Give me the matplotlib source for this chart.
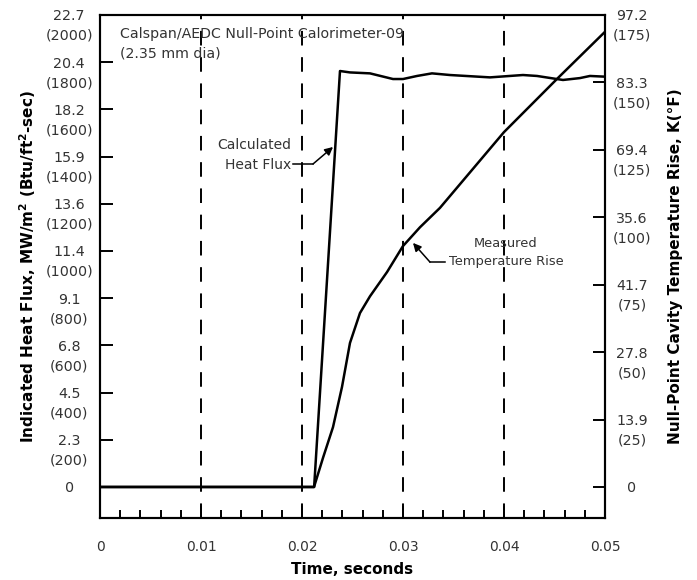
import matplotlib
matplotlib.use("Agg")
import matplotlib.pyplot as plt
from matplotlib.transforms import blended_transform_factory, ScaledTranslation
import numpy as np

# heat flux trace, Btu/ft2-sec vs time (s)
flux_t = [0, 0.0212, 0.02376, 0.02475, 0.02673, 0.02901, 0.0300, 0.03139, 0.03287,
          0.03465, 0.03861, 0.04188, 0.04327, 0.04584, 0.04752, 0.04851, 0.05]
flux_btu = [0, 0, 1763, 1757, 1753, 1729, 1729, 1742, 1753,
            1746, 1736, 1746, 1742, 1725, 1733, 1742, 1739]

# measured temperature rise, deg F vs time (s)
temp_t = [0, 0.02119, 0.02208, 0.02307, 0.02396, 0.02475, 0.02574, 0.02673,
          0.02842, 0.02999, 0.03168, 0.03366, 0.0400, 0.04535, 0.05]
temp_f = [0, 0, 10.8, 22.2, 37.1, 53.4, 64.5, 70.7,
          79.7, 89.3, 96.3, 103.5, 131.6, 151.7, 168.8]

x_ticks = [0, 0.01, 0.02, 0.03, 0.04, 0.05]
x_labels = ["0", "0.01", "0.02", "0.03", "0.04", "0.05"]

left_ticks = [0, 200, 400, 600, 800, 1000, 1200, 1400, 1600, 1800, 2000]
left_labels = ["0", "2.3\n(200)", "4.5\n(400)", "6.8\n(600)", "9.1\n(800)",
               "11.4\n(1000)", "13.6\n(1200)", "15.9\n(1400)", "18.2\n(1600)",
               "20.4\n(1800)", "22.7\n(2000)"]

right_ticks = [0, 25, 50, 75, 100, 125, 150, 175]
right_labels = ["0", "13.9\n(25)", "27.8\n(50)", "41.7\n(75)", "35.6\n(100)",
                "69.4\n(125)", "83.3\n(150)", "97.2\n(175)"]

grey = "#333333"
LS = 1.5

fig = plt.figure(figsize=(6.97, 5.80), dpi=100)
ax = fig.add_axes([0.1435, 0.107, 0.7245, 0.867])
ax2 = ax.twinx()

ax.set_xlim(0, 0.05)
ax.set_ylim(-131, 2000)
ax2.set_ylim(-11.5, 175)

for xv in x_ticks[1:-1]:
    ax.axvline(xv, color="black", lw=1.4, dashes=(7.5, 6), zorder=1)

ax.plot(flux_t, flux_btu, color="black", lw=1.8, zorder=3)
ax2.plot(temp_t, temp_f, color="black", lw=1.8, zorder=3)

for a in (ax, ax2):
    for s in a.spines.values():
        s.set_linewidth(1.5)

ax.set_xticks(x_ticks, x_labels)
ax.set_xticks(np.arange(0.002, 0.05, 0.002), minor=True)
ax.tick_params(axis="x", which="major", direction="in", length=9, width=1.4,
               pad=16, labelsize=10, labelcolor=grey)
ax.tick_params(axis="x", which="minor", direction="in", length=6, width=1.4)

ax.set_yticks(left_ticks)
ax.tick_params(axis="y", direction="in", length=9, width=1.4, labelleft=False)
ax2.set_yticks(right_ticks)
ax2.tick_params(axis="y", direction="in", length=9, width=1.4, labelright=False)

# two-line tick labels, first line centred on the tick
shift = ScaledTranslation(0, 0.056, fig.dpi_scale_trans)
tl = blended_transform_factory(ax.transAxes, ax.transData) + shift
tr = blended_transform_factory(ax2.transAxes, ax2.transData) + shift
for v, lab in zip(left_ticks, left_labels):
    ax.text(-0.061, v, lab, transform=tl, ha="center", va="top",
            multialignment="center", fontsize=10.3, color=grey, linespacing=LS)
for v, lab in zip(right_ticks, right_labels):
    ax2.text(1.0535, v, lab, transform=tr, ha="center", va="top",
             multialignment="center", fontsize=10.3, color=grey, linespacing=LS)

ax.set_xlabel("Time, seconds", fontsize=11, fontweight="bold", labelpad=6)
ax.set_ylabel("Indicated Heat Flux, MW/m$^\\mathbf{2}$ (Btu/ft$^\\mathbf{2}$-sec)",
              fontsize=11, fontweight="bold")
ax.yaxis.set_label_coords(-0.122, 0.5)
ax2.set_ylabel("Null-Point Cavity Temperature Rise, K(°F)",
               fontsize=11, fontweight="bold")
ax2.yaxis.set_label_coords(1.125, 0.5)

ax.text(0.04, 0.977, "Calspan/AEDC Null-Point Calorimeter-09\n(2.35 mm dia)",
        transform=ax.transAxes, ha="left", va="top", fontsize=10.2, color=grey,
        linespacing=1.5)

# Calculated heat flux callout
ax.text(0.0189, 1407, "Calculated\nHeat Flux", ha="right", va="center",
        multialignment="right", fontsize=10, color=grey, linespacing=1.5)
ax.plot([0.01911, 0.02109], [1369, 1369], color="black", lw=1.1)
ax.annotate("", xy=(0.02307, 1441), xytext=(0.02109, 1369),
            arrowprops=dict(arrowstyle="-|>", color="black", lw=1.1,
                            mutation_scale=12, shrinkA=0, shrinkB=0))

# Measured temperature callout
ax2.text(0.0402, 87.1, "Measured\nTemperature Rise", ha="center", va="center",
         multialignment="center", fontsize=9.4, color=grey, linespacing=1.5)
ax2.plot([0.03416, 0.03267], [83.4, 83.4], color="black", lw=1.1)
ax2.annotate("", xy=(0.03099, 90.5), xytext=(0.03267, 83.4),
             arrowprops=dict(arrowstyle="-|>", color="black", lw=1.1,
                             mutation_scale=12, shrinkA=0, shrinkB=0))

fig.savefig("out.png", dpi=100)
